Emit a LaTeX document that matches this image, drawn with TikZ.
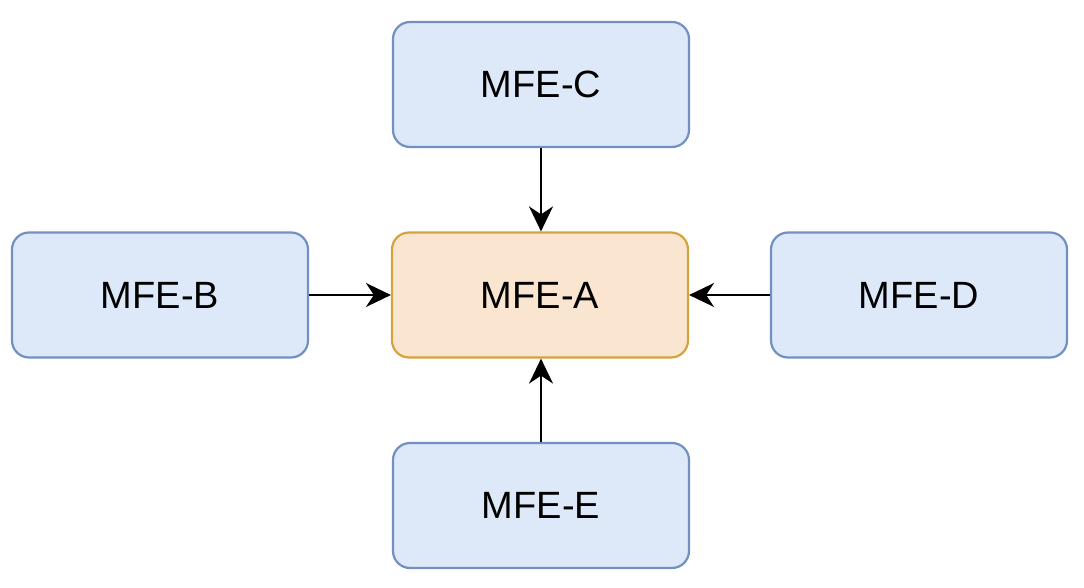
\documentclass[tikz,border=0pt]{standalone}
\usepackage{fontspec}
\setmainfont{Liberation Sans}
\usetikzlibrary{arrows.meta}
\definecolor{bluefill}{HTML}{DDE8F9}
\definecolor{bluedraw}{HTML}{7290C2}
\definecolor{orangefill}{HTML}{FAE6D0}
\definecolor{orangedraw}{HTML}{D6A23D}
\tikzset{
  box/.style={draw=bluedraw, fill=bluefill, line width=2.2pt, rounded corners=17pt,
    minimum width=296pt, minimum height=125pt, inner sep=0pt,
    font=\fontsize{38}{44}\selectfont, text=black},
  centerbox/.style={box, draw=orangedraw, fill=orangefill},
  conn/.style={line width=2.2pt, -{Stealth[length=25pt,width=24pt,inset=8pt]}}
}
\begin{document}
\begin{tikzpicture}[x=1pt,y=1pt]
\useasboundingbox (0,0) rectangle (1084,-588);
\node[centerbox] (A) at (540,-295) {MFE-A};
\node[box] (C) at (541,-84.5) {MFE-C};
\node[box] (B) at (160,-295) {MFE-B};
\node[box] (D) at (919,-295) {MFE-D};
\node[box] (E) at (541,-505.5) {MFE-E};
\draw[conn] (C.south) -- (C.south |- A.north);
\draw[conn] (E.north) -- (E.north |- A.south);
\draw[conn] (B.east) -- (A.west);
\draw[conn] (D.west) -- (A.east);
\end{tikzpicture}
\end{document}
